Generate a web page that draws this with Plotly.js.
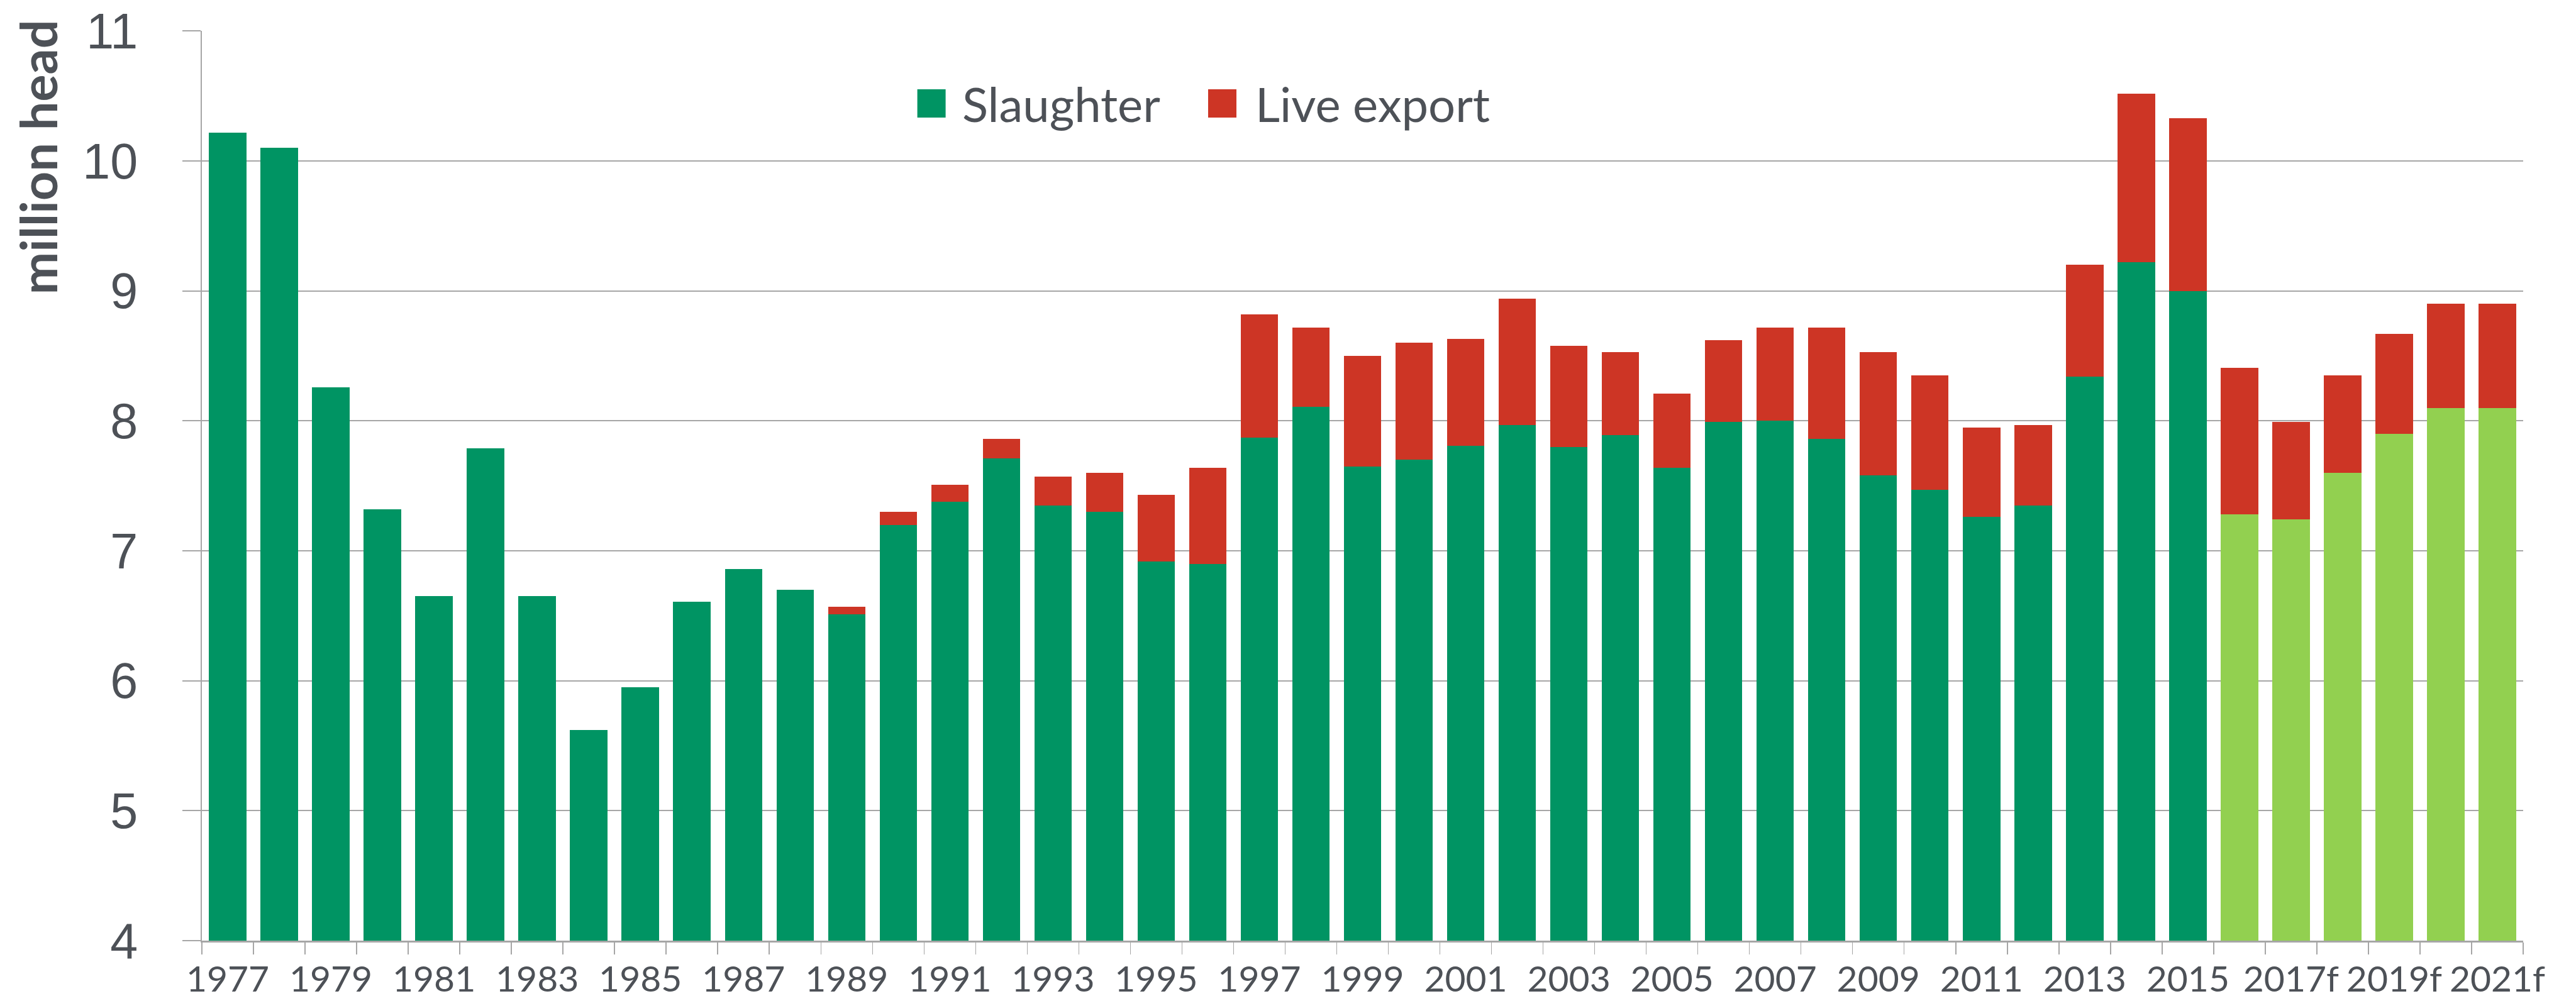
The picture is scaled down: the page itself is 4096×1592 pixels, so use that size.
<!DOCTYPE html>
<html>
<head>
<meta charset="utf-8">
<script src="https://cdn.plot.ly/plotly-3.0.1.min.js"></script>
<style>
html,body{margin:0;padding:0;background:#ffffff;}
#chart{width:4096px;height:1592px;}
</style>
</head>
<body>
<div id="chart"></div>
<script>
// ---- data (million head) ----
const years = ["1977","1978","1979","1980","1981","1982","1983","1984","1985","1986",
  "1987","1988","1989","1990","1991","1992","1993","1994","1995","1996",
  "1997","1998","1999","2000","2001","2002","2003","2004","2005","2006",
  "2007","2008","2009","2010","2011","2012","2013","2014","2015","2016f",
  "2017f","2018f","2019f","2020f","2021f"];

const slaughter = [10.22,10.10,8.26,7.32,6.65,7.79,6.65,5.62,5.95,6.61,
  6.86,6.70,6.51,7.20,7.38,7.71,7.35,7.30,6.92,6.90,
  7.87,8.11,7.65,7.70,7.81,7.97,7.80,7.89,7.64,7.99,
  8.00,7.86,7.58,7.47,7.26,7.35,8.34,9.22,9.00,7.28,
  7.24,7.60,7.90,8.10,8.10];

const liveExport = [0,0,0,0,0,0,0,0,0,0,
  0,0,0.06,0.10,0.13,0.15,0.22,0.30,0.51,0.74,
  0.95,0.61,0.85,0.90,0.82,0.97,0.78,0.64,0.57,0.63,
  0.72,0.86,0.95,0.88,0.69,0.62,0.86,1.30,1.33,1.13,
  0.75,0.75,0.77,0.80,0.80];

const xTickLabels = ["1977","","1979","","1981","","1983","","1985","",
  "1987","","1989","","1991","","1993","","1995","",
  "1997","","1999","","2001","","2003","","2005","",
  "2007","","2009","","2011","","2013","","2015","",
  "2017f","","2019f","","2021f"];

const yTickVals = [4, 5, 6, 7, 8, 9, 10, 11];
const yTickText = ["4", "5", "6", "7", "8", "9", "10", "11"];

const seriesNames = ["Slaughter", "Live export"];
const yTitle = "million head";

// ---- styling ----
const C_ACTUAL = "#009463";
const C_FORECAST = "#92d050";
const C_LIVE = "#cd3525";
const C_TEXT = "#4d5157";
const C_GRID = "#a6a6a6";
const FONT = "Lato, 'Open Sans', sans-serif";
const FONT_Y = "'Liberation Sans', Arial, sans-serif";

const slaughterColors = years.map(y => y.endsWith("f") ? C_FORECAST : C_ACTUAL);

const traces = [
  {type:"bar", name:seriesNames[0], x:years, y:slaughter,
   marker:{color:slaughterColors, line:{width:0}}, hoverinfo:"x+y+name"},
  {type:"bar", name:seriesNames[1], x:years, y:liveExport,
   marker:{color:C_LIVE, line:{width:0}}, hoverinfo:"x+y+name"}
];

// plot area in pixels: left 321, right 4012, top 49, bottom 1496
const PL = 321, PR = 4012, PT = 49, PB = 1496;
const px = v => (v - PL) / (PR - PL);
const py = v => (PB - v) / (PB - PT);

const legendItems = [
  {name:seriesNames[0], color:C_ACTUAL, sx:1458.6, tx:1527.5},
  {name:seriesNames[1], color:C_LIVE, sx:1921, tx:1994}
];

const shapes = legendItems.map(it => ({
  type:"rect", xref:"paper", yref:"paper",
  x0:px(it.sx), x1:px(it.sx + 45), y0:py(187), y1:py(142),
  fillcolor:it.color, line:{width:0}
}));

const annotations = legendItems.map(it => ({
  xref:"paper", yref:"paper", x:px(it.tx), y:py(164.5),
  xanchor:"left", yanchor:"middle", showarrow:false,
  text:it.name, font:{family:FONT, size:76, color:C_TEXT}
}));

annotations.push({
  xref:"paper", yref:"paper", x:px(59.5), y:py(250),
  xanchor:"center", yanchor:"middle", showarrow:false, textangle:-90,
  text:"<b>" + yTitle + "</b>", font:{family:FONT, size:81, color:C_TEXT}
});

const layout = {
  width:4096, height:1592,
  margin:{l:PL, r:4096-PR, t:PT, b:1592-PB, pad:0},
  paper_bgcolor:"#ffffff", plot_bgcolor:"#ffffff",
  barmode:"stack", bargap:0.275,
  showlegend:false,
  font:{family:FONT, color:C_TEXT},
  xaxis:{
    type:"category", tickmode:"array", tickvals:years, ticktext:xTickLabels,
    tickson:"boundaries", ticks:"outside", ticklen:19, tickwidth:1.5, tickcolor:C_GRID,
    showgrid:false, showline:true, linecolor:C_GRID, linewidth:2.5,
    tickfont:{family:FONT, size:57, color:C_TEXT}, tickangle:0,
    range:[-0.5, years.length - 0.5], ticklabelstandoff:10, fixedrange:true
  },
  yaxis:{
    range:[4, 11.002], tickmode:"array", tickvals:yTickVals, ticktext:yTickText,
    showgrid:true, gridcolor:C_GRID, gridwidth:2,
    zeroline:false, showline:true, linecolor:C_GRID, linewidth:2,
    ticks:"outside", ticklen:29, tickwidth:2, tickcolor:C_GRID,
    tickfont:{family:FONT_Y, size:79, color:C_TEXT}, ticklabelstandoff:55,
    ticklabeloverflow:"allow", fixedrange:true
  },
  shapes:shapes,
  annotations:annotations
};

Plotly.newPlot("chart", traces, layout, {displayModeBar:false, staticPlot:true});
</script>
</body>
</html>
